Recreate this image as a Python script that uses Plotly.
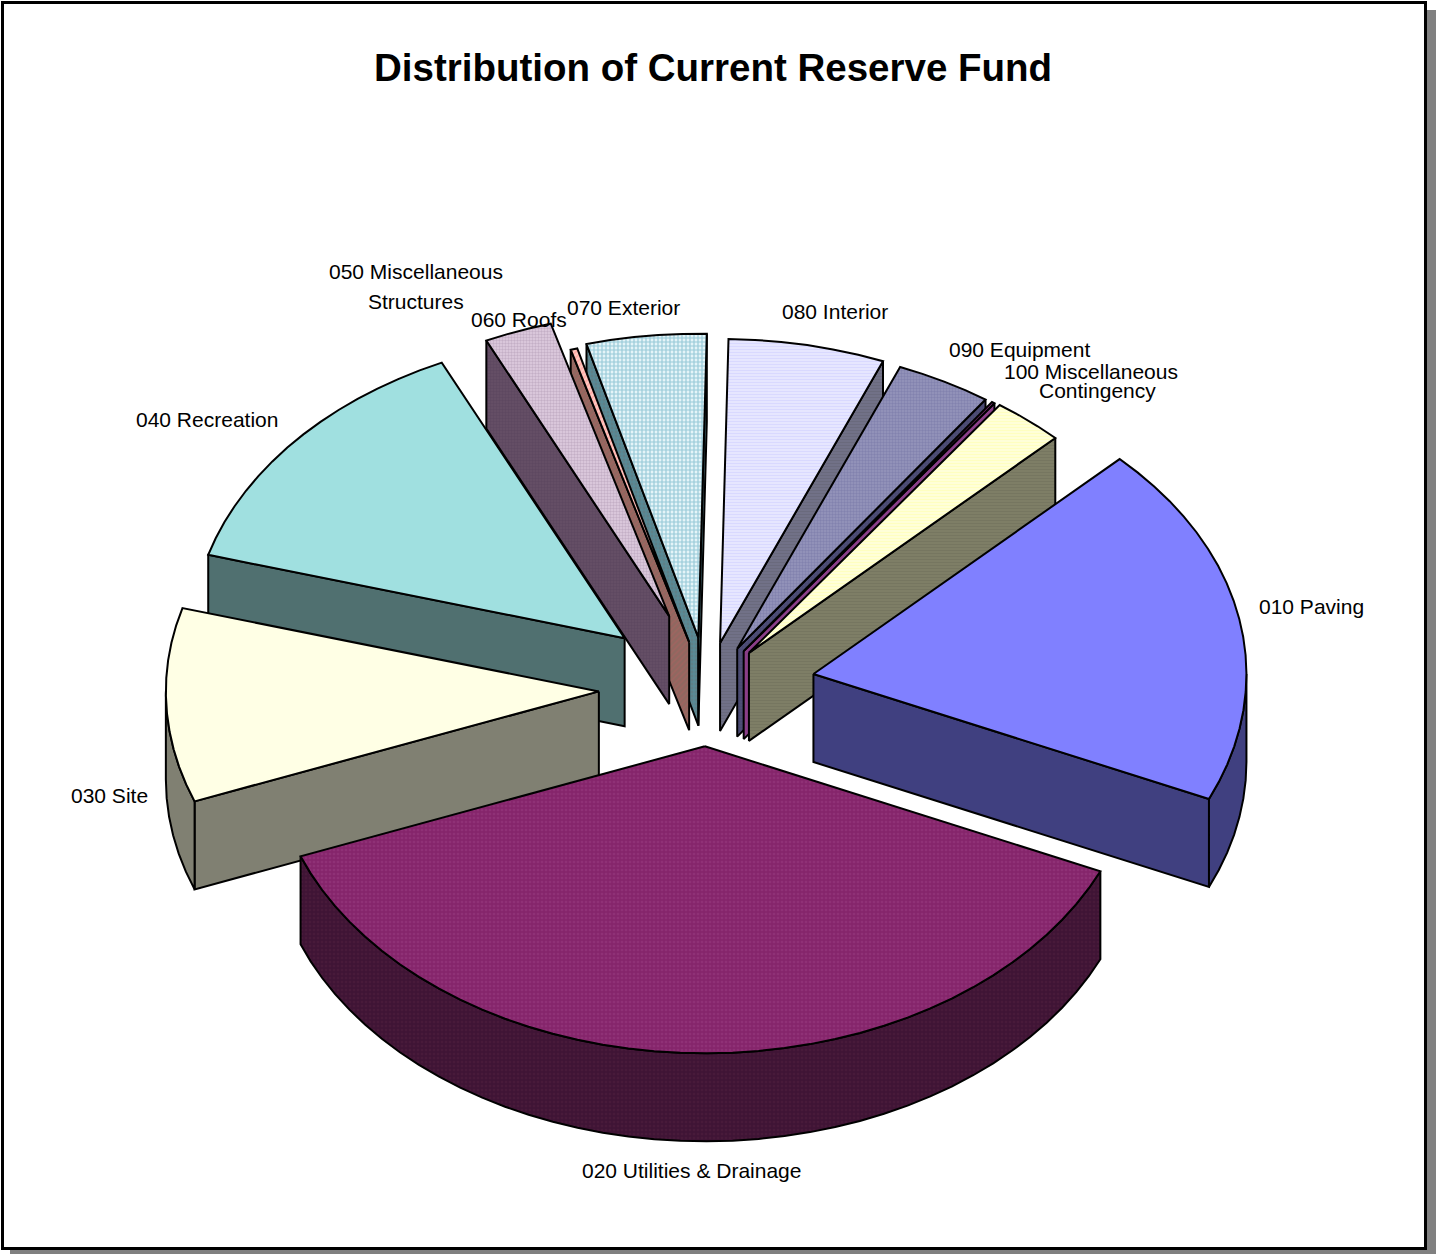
import math
import plotly.graph_objects as go

# Share of the reserve fund per component, percent
categories = ["010 Paving", "020 Utilities & Drainage", "030 Site", "040 Recreation",
              "050 Miscellaneous Structures", "060 Roofs", "070 Exterior", "080 Interior",
              "090 Equipment", "095 Other", "100 Miscellaneous Contingency"]
shares = [19.17, 37.50, 10.25, 13.64, 2.53, 0.25, 4.47, 5.83, 3.58, 0.11, 2.68]
explosions = [0.25, 0.19, 0.25, 0.25, 0.25, 0.155, 0.165, 0.15, 0.146, 0.147, 0.15]

# Pie geometry in page pixels; the far half is slightly foreshortened
CX, CY = 707, 688
RX, RY_NEAR, RY_FAR = 433, 307, 304
DEPTH = 88
FIRST_ANGLE = 45
ARC_STEP = 3.5

# Back-to-front painting order
draw_order = [7, 8, 9, 10, 0, 6, 5, 4, 3, 2, 1]

# top colour, wall colour, pattern (shape, top ink, wall ink, cell size, solidity)
styles = [
    ("#8080FF", "#404080", None),
    ("#85256B", "#3F1435", (".", "#9A3D82", "#52203F", 4, 0.35)),
    ("#FFFFE5", "#808072", None),
    ("#A0E0E0", "#507070", None),
    ("#E0CEE0", "#665066", (".", "#A890AC", "#54405A", 3, 0.5)),
    ("#FFC8C0", "#906860", ("/", "#FF8080", "#B06060", 4, 0.35)),
    ("#E4F4F8", "#5F8088", ("+", "#4AA0B8", "#4F98A8", 4, 0.5)),
    ("#EAEAFF", "#74748A", ("-", "#C8C8FF", "#606070", 3, 0.5)),
    ("#9696BC", "#505078", (".", "#6E6EA0", "#404068", 3, 0.5)),
    ("#A0409A", "#8A3E88", None),
    ("#FFFFE0", "#808068", ("-", "#FFFFA0", "#6C6C58", 3, 0.5)),
]


def rim(ax, ay, angle):
    rad = math.radians(angle)
    c = math.cos(rad)
    return ax + RX * math.sin(rad), ay - (RY_FAR if c > 0 else RY_NEAR) * c


def arc(ax, ay, start, end):
    n = max(1, int(math.ceil((end - start) / ARC_STEP)))
    return [rim(ax, ay, start + (end - start) * i / n) for i in range(n + 1)]


def polygon(points, fill, pattern=None, ink_index=1, width=2):
    trace = dict(
        x=[p[0] for p in points] + [points[0][0]],
        y=[p[1] for p in points] + [points[0][1]],
        mode="lines",
        fill="toself",
        fillcolor=fill,
        line=dict(color="black", width=width),
        hoverinfo="skip",
        showlegend=False,
    )
    if pattern:
        trace["fillpattern"] = dict(
            shape=pattern[0],
            fgcolor=pattern[ink_index],
            bgcolor=fill,
            size=pattern[3],
            solidity=pattern[4],
        )
    return go.Scatter(**trace)


def drop(points):
    return [(x, y + DEPTH) for x, y in points]


# Angular extent of each slice, clockwise from twelve o'clock
spans = []
angle = FIRST_ANGLE
for share in shares:
    spans.append((angle, angle + share * 3.6))
    angle += share * 3.6

fig = go.Figure()

for i in draw_order:
    start, end = spans[i]
    mid = math.radians((start + end) / 2)
    ax = CX + explosions[i] * RX * math.sin(mid)
    ay = CY - explosions[i] * RY_NEAR * math.cos(mid)
    top, wall, pattern = styles[i]

    # Walls that face the viewer
    if math.sin(math.radians(start)) < 0:
        edge = [(ax, ay), rim(ax, ay, start)]
        fig.add_trace(polygon(edge + drop(edge)[::-1], wall, pattern, 2))
    if math.sin(math.radians(end)) > 0:
        edge = [(ax, ay), rim(ax, ay, end)]
        fig.add_trace(polygon(edge + drop(edge)[::-1], wall, pattern, 2))
    low, high = max(start, 90), min(end, 270)
    if low < high:
        outer = arc(ax, ay, low, high)
        fig.add_trace(polygon(outer + drop(outer)[::-1], wall, pattern, 2))

    # Top face
    fig.add_trace(polygon([(ax, ay)] + arc(ax, ay, start, end), top, pattern, 1))

title_text = "Distribution of Current Reserve Fund"
label_lines = [
    ("010 Paving", 1311, 606),
    ("020 Utilities & Drainage", 691, 1170),
    ("030 Site", 109, 795),
    ("040 Recreation", 207, 419),
    ("050 Miscellaneous", 416, 271),
    ("Structures", 416, 301),
    ("060 Roofs", 519, 319),
    ("070 Exterior", 623, 307),
    ("080 Interior", 835, 311),
    ("090 Equipment", 1019, 349),
    ("100 Miscellaneous", 1091, 371),
    ("Contingency", 1097, 390),
]

annotations = [
    dict(text=text, x=x, y=y, xref="x", yref="y", showarrow=False,
         xanchor="center", yanchor="middle",
         font=dict(family="Liberation Sans", size=21, color="black"))
    for text, x, y in label_lines
]
annotations.append(
    dict(text="<b>" + title_text + "</b>", x=713, y=67, xref="x", yref="y", showarrow=False,
         xanchor="center", yanchor="middle",
         font=dict(family="Liberation Sans", size=38.5, color="black"))
)

shapes = [
    dict(type="rect", layer="below", xref="x", yref="y", x0=10, y0=10, x1=1436, y1=1254,
         fillcolor="#808080", line=dict(width=0)),
    dict(type="rect", layer="below", xref="x", yref="y", x0=2.5, y0=2.5, x1=1425.5, y1=1248.5,
         fillcolor="white", line=dict(color="black", width=3)),
]

fig.update_layout(
    width=1436,
    height=1254,
    margin=dict(l=0, r=0, t=0, b=0),
    paper_bgcolor="white",
    plot_bgcolor="white",
    showlegend=False,
    xaxis=dict(range=[0, 1436], visible=False, fixedrange=True),
    yaxis=dict(range=[1254, 0], visible=False, fixedrange=True),
    annotations=annotations,
    shapes=shapes,
)

fig.write_html("out.html", config=dict(displayModeBar=False))
